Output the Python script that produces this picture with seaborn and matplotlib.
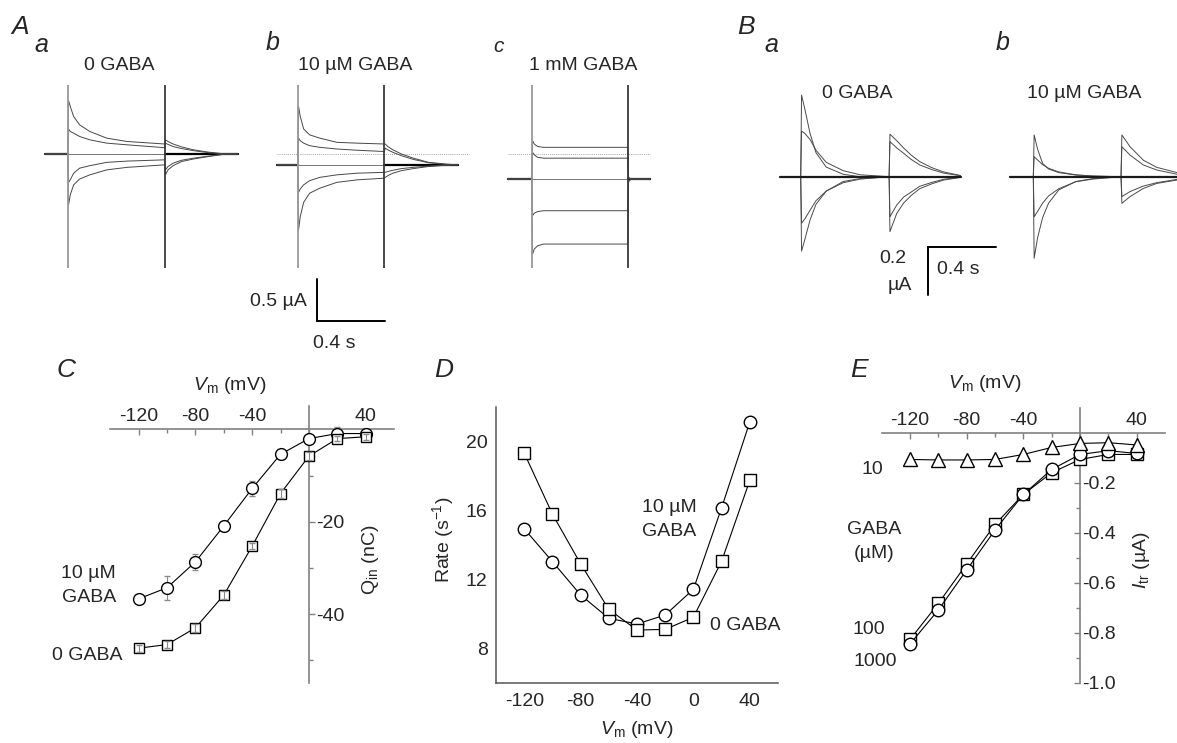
import matplotlib
matplotlib.use("Agg")
import matplotlib.pyplot as plt
import seaborn as sns

# ---------------- data: panels C, D, E ----------------
vm = [-120, -100, -80, -60, -40, -20, 0, 20, 40]
q_0gaba = [-47.4, -46.6, -43.0, -35.9, -25.3, -13.9, -5.8, -2.0, -1.6]
q_0gaba_err = [0.8, 0.8, 0.9, 0.8, 0.6, 0.9, 0.9, 0.6, 0.6]
q_10gaba = [-36.7, -34.3, -28.7, -20.9, -12.8, -5.4, -2.0, -0.9, -0.9]
q_10gaba_err = [0.5, 2.6, 1.8, 0.6, 1.7, 0.6, 0.8, 1.4, 0.8]
rate_0gaba = [19.32, 15.79, 12.91, 10.28, 9.08, 9.12, 9.82, 13.06, 17.74]
rate_10gaba = [14.94, 13.04, 11.11, 9.76, 9.43, 9.95, 11.44, 16.15, 21.12]
itr_10 = [-0.107, -0.109, -0.109, -0.107, -0.087, -0.059, -0.043, -0.040, -0.049]
itr_100 = [-0.827, -0.683, -0.525, -0.367, -0.247, -0.160, -0.107, -0.087, -0.087]
itr_1000 = [-0.845, -0.709, -0.549, -0.389, -0.247, -0.147, -0.087, -0.072, -0.083]

# ---------------- data: current traces (s from pulse on/off, uA rel. to holding) ----
# A a : 0 GABA
aa_hold = 0.0
aa_dur = 0.57
aa_on_t = [0.005, 0.015, 0.035, 0.07, 0.13, 0.23, 0.35, 0.57]
aa_on = [[0.64, 0.57, 0.45, 0.35, 0.27, 0.19, 0.15, 0.12],
         [0.30, 0.27, 0.25, 0.21, 0.17, 0.13, 0.11, 0.076],
         [-0.34, -0.31, -0.23, -0.17, -0.14, -0.10, -0.085, -0.07],
         [-0.61, -0.49, -0.37, -0.30, -0.25, -0.19, -0.16, -0.13]]
aa_off_t = [0.005, 0.02, 0.05, 0.1, 0.17, 0.26, 0.36]
aa_off = [[0.17, 0.15, 0.12, 0.085, 0.05, 0.022, 0.0],
          [0.13, 0.115, 0.09, 0.065, 0.04, 0.015, 0.0],
          [-0.19, -0.15, -0.11, -0.075, -0.05, -0.025, 0.0],
          [-0.25, -0.19, -0.14, -0.09, -0.06, -0.03, 0.0]]
# A b : 10 uM GABA
ab_hold = -0.13
ab_dur = 0.51
ab_on_t = [0.005, 0.015, 0.035, 0.07, 0.13, 0.23, 0.35, 0.51]
ab_on = [[0.70, 0.58, 0.43, 0.36, 0.32, 0.27, 0.26, 0.25],
         [0.32, 0.29, 0.26, 0.23, 0.21, 0.19, 0.175, 0.16],
         [-0.33, -0.29, -0.24, -0.19, -0.15, -0.12, -0.10, -0.09],
         [-0.78, -0.62, -0.45, -0.34, -0.28, -0.21, -0.18, -0.16]]
ab_off_t = [0.005, 0.02, 0.05, 0.1, 0.17, 0.26, 0.36, 0.42]
ab_off = [[0.25, 0.22, 0.18, 0.13, 0.08, 0.03, 0.01, 0.0],
          [0.20, 0.18, 0.15, 0.11, 0.065, 0.025, 0.005, 0.0],
          [-0.09, -0.08, -0.065, -0.045, -0.03, -0.015, -0.005, 0.0],
          [-0.15, -0.13, -0.10, -0.07, -0.045, -0.02, -0.005, 0.0]]
# A c : 1 mM GABA
ac_hold = -0.30
ac_dur = 0.565
ac_on_t = [0.005, 0.015, 0.035, 0.07, 0.565]
ac_on = [[0.46, 0.42, 0.39, 0.38, 0.38],
         [0.32, 0.29, 0.26, 0.25, 0.25],
         [-0.44, -0.41, -0.39, -0.38, -0.38],
         [-0.90, -0.84, -0.80, -0.78, -0.78]]
ac_off_t = [0.005, 0.02]
ac_off = [[0.02, 0.0], [0.01, 0.0], [-0.02, 0.0], [-0.03, 0.0]]
a_artifact = (-1.37, 0.83)

# B a : 0 GABA
ba_dur = 0.52
ba_on_t = [0.005, 0.025, 0.055, 0.09, 0.15, 0.25, 0.35, 0.52]
ba_on = [[0.34, 0.28, 0.18, 0.10, 0.04, 0.01, 0.0, 0.0],
         [0.19, 0.18, 0.155, 0.11, 0.06, 0.025, 0.008, 0.0],
         [-0.31, -0.26, -0.18, -0.115, -0.06, -0.02, -0.008, 0.0],
         [-0.194, -0.175, -0.14, -0.10, -0.06, -0.025, -0.01, 0.0]]
ba_off_t = [0.005, 0.045, 0.085, 0.13, 0.18, 0.25, 0.32, 0.42]
ba_off = [[0.177, 0.15, 0.12, 0.09, 0.063, 0.038, 0.02, 0.005],
          [0.146, 0.12, 0.098, 0.072, 0.049, 0.03, 0.015, 0.004],
          [-0.229, -0.153, -0.11, -0.078, -0.05, -0.03, -0.014, -0.003],
          [-0.167, -0.118, -0.085, -0.064, -0.04, -0.024, -0.011, -0.002]]
# B b : 10 uM GABA
bb_dur = 0.516
bb_on_t = [0.005, 0.025, 0.055, 0.09, 0.15, 0.25, 0.35, 0.516]
bb_on = [[0.174, 0.115, 0.055, 0.032, 0.017, 0.007, 0.002, 0.0],
         [0.083, 0.07, 0.05, 0.035, 0.02, 0.008, 0.003, 0.0],
         [-0.34, -0.255, -0.17, -0.11, -0.055, -0.02, -0.008, 0.0],
         [-0.167, -0.145, -0.11, -0.08, -0.05, -0.021, -0.01, 0.0]]
bb_off_t = [0.005, 0.053, 0.131, 0.21, 0.33, 0.45]
bb_off = [[0.174, 0.125, 0.069, 0.039, 0.017, 0.005],
          [0.125, 0.09, 0.049, 0.028, 0.01, 0.003],
          [-0.111, -0.083, -0.049, -0.028, -0.014, -0.005],
          [-0.083, -0.062, -0.039, -0.025, -0.011, -0.004]]

# ---------------- style ----------------
sns.set_theme(style="white")
plt.rcParams["font.family"] = ["Liberation Sans", "DejaVu Sans"]
plt.rcParams["mathtext.fontset"] = "custom"
plt.rcParams["mathtext.rm"] = "Liberation Sans"
plt.rcParams["mathtext.it"] = "Liberation Sans:italic"
plt.rcParams["axes.unicode_minus"] = False

FS = 14
W, H = 1177, 743
fig = plt.figure(figsize=(W / 100, H / 100), dpi=100)
fig.patch.set_facecolor("white")


def ax_px(x0, y0, x1, y1):
    return fig.add_axes([x0 / W, 1 - y1 / H, (x1 - x0) / W, (y1 - y0) / H])


def ftext(x, y, s, **kw):
    kw.setdefault("ha", "center")
    kw.setdefault("va", "center")
    kw.setdefault("fontsize", FS)
    fig.text(x / W, 1 - y / H, s, **kw)


def draw_trace(ax, x0, dur, hold, on_t, on_v, off_t, off_v, pre, post, color="#474747", lw=0.7):
    xs = [x0 - pre, x0] + [x0 + t for t in on_t] + [x0 + dur + t for t in off_t] + [x0 + dur + post]
    ys = [hold, hold] + [hold + v for v in on_v] + [hold + v for v in off_v] + [hold]
    sns.lineplot(x=xs, y=ys, ax=ax, color=color, linewidth=lw, sort=False, estimator=None)


PX_PER_S = 170.0
# ---------------- panel A traces ----------------
A_PX_PER_UA = 41.7 / 0.5
A_ZERO = 154.0
axA = ax_px(0, 60, 760, 360)
axA.set_xlim(0, 760 / PX_PER_S)
axA.set_ylim((A_ZERO - 360) / A_PX_PER_UA, (A_ZERO - 60) / A_PX_PER_UA)
axA.axis("off")

a_panels = [
    (67.7, aa_dur, aa_hold, aa_on_t, aa_on, aa_off_t, aa_off, 0.134, 0.43, 0.43),
    (297.7, ab_dur, ab_hold, ab_on_t, ab_on, ab_off_t, ab_off, 0.122, 0.43, 0.50),
    (531.7, ac_dur, ac_hold, ac_on_t, ac_on, ac_off_t, ac_off, 0.14, 0.13, 0.13),
]
for (xpx, dur, hold, on_t, on, off_t, off, pre, post, dotpost) in a_panels:
    x0 = xpx / PX_PER_S
    axA.plot([x0 - pre, x0 + dur + dotpost], [0, 0], ls=(0, (1, 1.5)), color="#888888", lw=0.6)
    axA.plot([x0 - pre, x0 + dur + post], [hold, hold], color="#777777", lw=0.7)
    axA.plot([x0 - pre, x0], [hold, hold], color="black", lw=1.6)
    axA.plot([x0 + dur, x0 + dur + post], [hold, hold], color="black", lw=1.6)
    for v_on, v_off in zip(on, off):
        draw_trace(axA, x0, dur, hold, on_t, v_on, off_t, v_off, pre, post)
    axA.vlines(x0, a_artifact[0], a_artifact[1], color="#9a9a9a", lw=1.3)
    axA.vlines(x0 + dur, a_artifact[0], a_artifact[1], color="#3a3a3a", lw=1.3)

sbx = 316.7 / PX_PER_S
sby = (A_ZERO - 320.7) / A_PX_PER_UA
axA.plot([sbx, sbx, sbx + 0.4], [sby + 0.5, sby, sby], color="black", lw=1.4, solid_joinstyle="miter")

# ---------------- panel B traces ----------------
B_PX_PER_UA = 48.0 / 0.2
B_ZERO = 176.7
axB = ax_px(760, 60, 1177, 320)
axB.set_xlim(0, 417 / PX_PER_S)
axB.set_ylim((B_ZERO - 320) / B_PX_PER_UA, (B_ZERO - 60) / B_PX_PER_UA)
axB.axis("off")
b_panels = [
    (800.7 - 760, ba_dur, ba_on_t, ba_on, ba_off_t, ba_off, 0.12, 0.42),
    (1033.3 - 760, bb_dur, bb_on_t, bb_on, bb_off_t, bb_off, 0.137, 0.5),
]
for (xpx, dur, on_t, on, off_t, off, pre, post) in b_panels:
    x0 = xpx / PX_PER_S
    for v_on, v_off in zip(on, off):
        draw_trace(axB, x0, dur, 0.0, on_t, v_on, off_t, v_off, pre, post, color="#4a4a4a", lw=0.7)
    axB.plot([x0 - pre, x0 + dur + post], [0, 0], color="#1a1a1a", lw=1.6)

sbx = (928 - 760) / PX_PER_S
sby = (B_ZERO - 247) / B_PX_PER_UA
axB.plot([sbx + 0.4, sbx, sbx], [sby, sby, sby - 0.2], color="black", lw=1.4, solid_joinstyle="miter")


# ---------------- helper for marker series ----------------
def series(ax, y, marker, ms, mew=1.0):
    sns.lineplot(x=vm, y=y, ax=ax, color="black", linewidth=0.8, marker=marker,
                 markersize=ms, markerfacecolor="white", markeredgecolor="black",
                 markeredgewidth=mew, sort=False, estimator=None, zorder=3)


def cross_axes(ax, tick_dir_y, spine_color="#808080"):
    for s in ("left", "bottom"):
        ax.spines[s].set_visible(False)
    ax.spines["top"].set_position(("data", 0))
    ax.spines["right"].set_position(("data", 0))
    for s in ("top", "right"):
        ax.spines[s].set_color(spine_color)
        ax.spines[s].set_linewidth(1.2)
    ax.xaxis.set_ticks_position("top")
    ax.yaxis.set_ticks_position("right")
    ax.tick_params(axis="x", which="both", direction="in", color=spine_color, labelsize=FS, pad=3)
    ax.tick_params(axis="x", which="major", length=4, width=1)
    ax.tick_params(axis="x", which="minor", length=3, width=1)
    ax.tick_params(axis="y", which="both", direction=tick_dir_y, color=spine_color, labelsize=FS, pad=1.5)
    ax.tick_params(axis="y", which="major", length=4, width=1)
    ax.tick_params(axis="y", which="minor", length=3, width=1)
    ax.set_xticks([-120, -80, -40, 0, 40], ["-120", "-80", "-40", "", "40"])
    ax.set_xticks([-100, -60, -20, 20], minor=True)
    ax.set_facecolor("none")
    ax.set_xlabel("")
    ax.set_ylabel("")


# ---------------- panel C ----------------
axC = ax_px(110.3, 406.3, 394, 683.3)
axC.set_xlim(-140, 60)
axC.set_ylim(-55, 5)
axC.errorbar(vm, q_10gaba, yerr=q_10gaba_err, fmt="none", ecolor="#8a8a8a", elinewidth=0.8, capsize=2.5, zorder=2)
series(axC, q_10gaba, "o", 8.5)
series(axC, q_0gaba, "s", 7.5)
axC.errorbar(vm, q_0gaba, yerr=q_0gaba_err, fmt="none", ecolor="#8a8a8a", elinewidth=0.8, capsize=2.5, zorder=4)
cross_axes(axC, "out")
axC.set_yticks([-20, -40], ["-20", "-40"])
axC.set_yticks([-10, -30, -50], minor=True)

# ---------------- panel D ----------------
axD = ax_px(496, 406.7, 778, 683.3)
axD.set_xlim(-140, 60)
axD.set_ylim(6, 22)
series(axD, rate_10gaba, "o", 9)
series(axD, rate_0gaba, "s", 8.5)
for s in ("top", "right"):
    axD.spines[s].set_visible(False)
for s in ("left", "bottom"):
    axD.spines[s].set_color("#555555")
    axD.spines[s].set_linewidth(1.1)
axD.set_xticks([-120, -80, -40, 0, 40], ["-120", "-80", "-40", "0", "40"])
axD.set_xticks([-100, -60, -20, 20, 60], minor=True)
axD.set_yticks([8, 12, 16, 20], ["8", "12", "16", "20"])
axD.set_yticks([10, 14, 18, 22], minor=True)
axD.tick_params(which="both", direction="out", color="#555555", labelsize=FS)
axD.tick_params(which="major", length=4, width=1)
axD.tick_params(which="minor", length=3, width=1)
axD.tick_params(axis="x", pad=3)
axD.tick_params(axis="y", pad=2)
axD.set_facecolor("none")
axD.set_xlabel("")
axD.set_ylabel("")

# ---------------- panel E ----------------
axE = ax_px(881.7, 407.7, 1165, 682.7)
axE.set_xlim(-140, 60)
axE.set_ylim(-1.0, 0.1)
series(axE, itr_100, "s", 8)
series(axE, itr_1000, "o", 9)
series(axE, itr_10, "^", 9.5)
cross_axes(axE, "in")
axE.set_yticks([-0.2, -0.4, -0.6, -0.8, -1.0], ["-0.2", "-0.4", "-0.6", "-0.8", "-1.0"])
axE.set_yticks([-0.1, -0.3, -0.5, -0.7, -0.9], minor=True)

# ---------------- texts ----------------
LET = dict(style="italic", fontsize=19)
ftext(20, 27, "A", **LET)
ftext(41, 45, "a", style="italic", fontsize=18)
ftext(273, 43, "b", style="italic", fontsize=18)
ftext(499, 46, "c", style="italic", fontsize=15)
ftext(119, 65, "0 GABA")
ftext(355, 65, "10 \u00b5M GABA")
ftext(583, 65, "1 mM GABA")
ftext(278, 301, "0.5 \u00b5A")
ftext(334, 343, "0.4 s")

ftext(746, 27, "B", **LET)
ftext(771, 45, "a", style="italic", fontsize=18)
ftext(1003, 43, "b", style="italic", fontsize=18)
ftext(857, 94, "0 GABA")
ftext(1084, 94, "10 \u00b5M GABA")
ftext(893, 258, "0.2")
ftext(900, 285, "\u00b5A")
ftext(958, 269, "0.4 s")

ftext(66, 370, "C", **LET)
ftext(230, 385, "$V_\\mathrm{m}$ (mV)")
ftext(88, 573, "10 \u00b5M")
ftext(89, 598, "GABA")
ftext(87, 655, "0 GABA")
ftext(370, 560, "$\\mathrm{Q}_\\mathrm{in}$ (nC)", rotation=90)

ftext(444, 370, "D", **LET)
ftext(443, 540, "Rate (s$^{-1}$)", rotation=90)
ftext(669, 507, "10 \u00b5M")
ftext(669, 532, "GABA")
ftext(745, 625, "0 GABA")
ftext(637, 730, "$V_\\mathrm{m}$ (mV)")

ftext(859, 370, "E", **LET)
ftext(985, 383, "$V_\\mathrm{m}$ (mV)")
ftext(872, 469, "10")
ftext(874, 529, "GABA")
ftext(874, 554, "(\u00b5M)")
ftext(869, 629, "100")
ftext(875, 662, "1000")
ftext(1142, 560, "$I_\\mathrm{tr}$ (\u00b5A)", rotation=90)

fig.savefig("out.png", dpi=100, facecolor="white")
